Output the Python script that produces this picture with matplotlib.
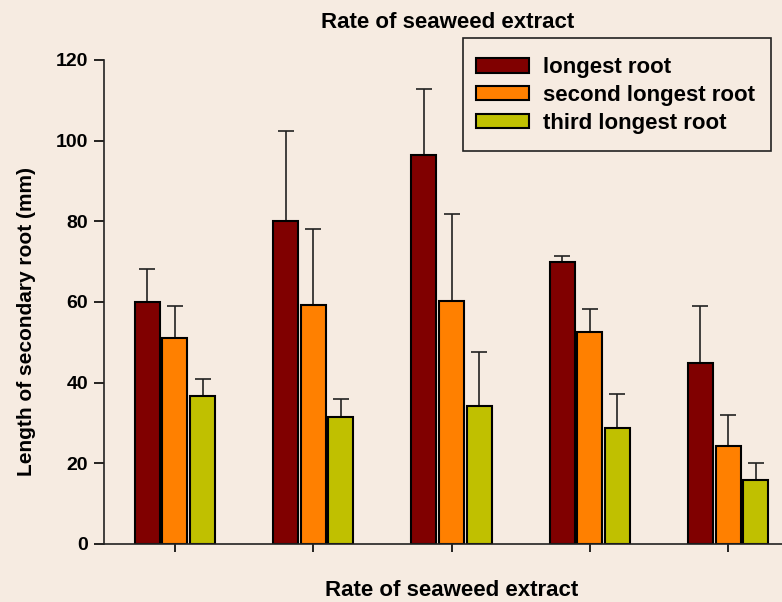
import matplotlib
matplotlib.use("Agg")
import matplotlib.pyplot as plt
from matplotlib.patches import Rectangle
import numpy as np

plt.rcParams["font.family"] = ["Liberation Sans", "DejaVu Sans"]
plt.rcParams["font.weight"] = "bold"

groups = ["1", "2", "3", "4", "5"]
series = ["longest root", "second longest root", "third longest root"]
longest = [60.0, 80.0, 96.5, 70.0, 45.0]
second = [51.0, 59.3, 60.3, 52.5, 24.4]
third = [36.8, 31.5, 34.3, 28.8, 15.9]
longest_err = [8.2, 22.5, 16.3, 1.5, 14.1]
second_err = [8.1, 18.7, 21.5, 5.8, 7.7]
third_err = [4.2, 4.5, 13.2, 8.4, 4.1]
colors = ["#800000", "#ff8000", "#c0c000"]

BG = "#f6ebe1"
W, H = 782, 602
fig = plt.figure(figsize=(W / 100, H / 100), dpi=100, facecolor=BG)
ax = fig.add_axes([104 / W, 58 / H, 695 / W, 484 / H])
ax.set_facecolor(BG)

x = np.arange(len(groups))
vals = [longest, second, third]
errs = [longest_err, second_err, third_err]
for i, (v, e, c, lab) in enumerate(zip(vals, errs, colors, series)):
    ax.bar(x + (i - 1) * 0.2, v, width=0.18, color=c, edgecolor="black",
           linewidth=1.5, label=lab, zorder=2,
           yerr=[np.zeros(len(e)), e],
           error_kw=dict(ecolor="#222222", elinewidth=1.2, capsize=5.5,
                         capthick=1.2, zorder=1))

ax.set_xlim(-0.513, 4.513)
ax.set_ylim(0, 120)
ax.set_yticks(range(0, 121, 20))
ax.set_xticks(x)
ax.set_xticklabels([])
for s in ("top", "right"):
    ax.spines[s].set_visible(False)
for s in ("left", "bottom"):
    ax.spines[s].set_linewidth(1.2)
    ax.spines[s].set_color("#222222")
ax.tick_params(axis="y", length=7, width=1.2, labelsize=14, pad=4.4)
ax.tick_params(axis="x", length=6, width=1.2)

# axis titles placed directly in figure pixels
fig.text(27 / W, 1 - 321 / H, "Length of secondary root (mm)", fontsize=15,
         fontweight="bold", rotation=90, ha="center", va="center")
fig.text(452 / W, 1 - 580 / H, "Rate of seaweed extract", fontsize=16,
         fontweight="bold", ha="center", va="top")
fig.text(448 / W, 1 - 22 / H, "Rate of seaweed extract", fontsize=16,
         fontweight="bold", ha="center", va="center")

# legend frame drawn separately so its padding matches the original
ax.add_patch(Rectangle((463 / W, 1 - 151 / H), 308 / W, 113 / H,
                       transform=fig.transFigure, facecolor=BG,
                       edgecolor="#222222", linewidth=1.2, zorder=4,
                       clip_on=False))
leg = ax.legend(loc="upper left", bbox_to_anchor=(463 / W, 1 - 44 / H),
                bbox_transform=fig.transFigure, fontsize=16, frameon=False,
                handlelength=2.35, handleheight=0.63, handletextpad=0.63,
                labelspacing=0.3, borderpad=0.6, borderaxespad=0)
leg.set_zorder(5)

fig.savefig("out.png", dpi=100, facecolor=BG)
